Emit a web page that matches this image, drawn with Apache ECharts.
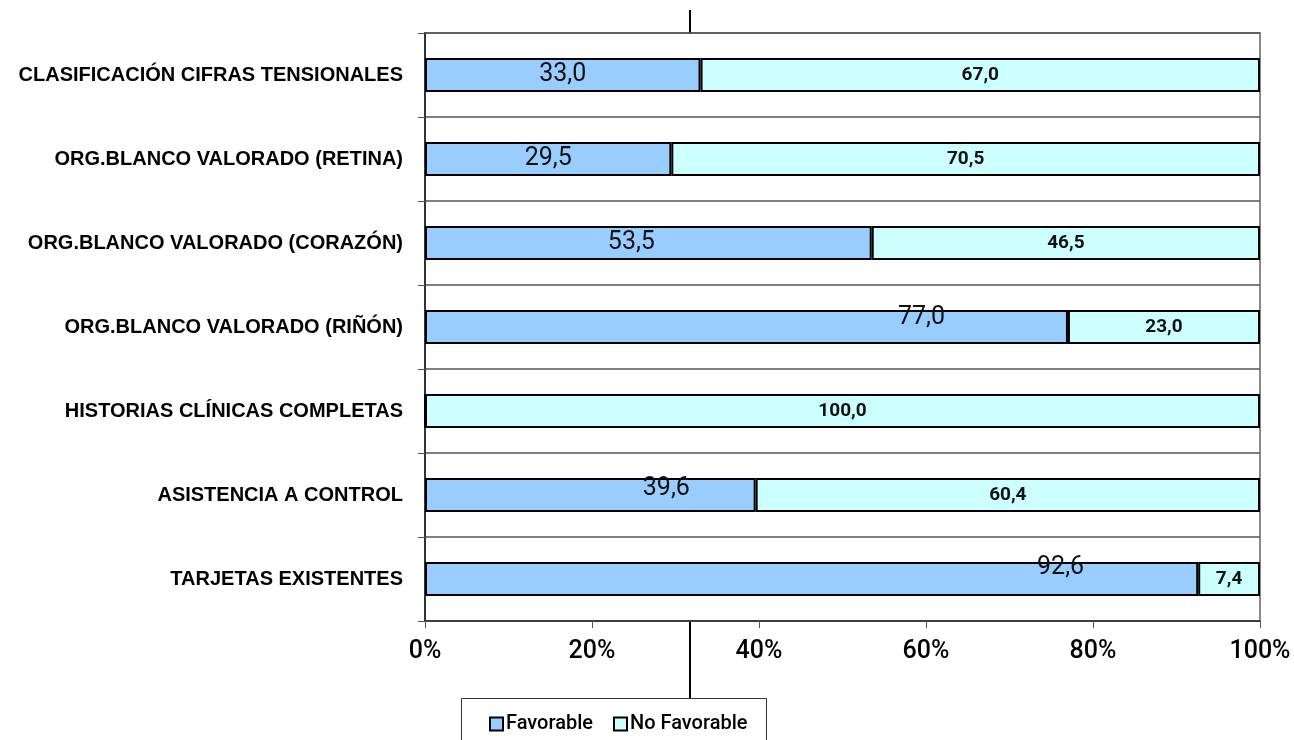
<!DOCTYPE html>
<html>
<head>
<meta charset="utf-8">
<script src="https://cdn.jsdelivr.net/npm/echarts@6/dist/echarts.min.js"></script>
<style>
  html, body { margin: 0; padding: 0; background: #fff; }
  #chart { width: 1294px; height: 740px; }
</style>
</head>
<body>
<div id="chart"></div>
<script>
// Categories, listed top to bottom
const categories = [
  'CLASIFICACIÓN CIFRAS TENSIONALES',
  'ORG.BLANCO VALORADO (RETINA)',
  'ORG.BLANCO VALORADO (CORAZÓN)',
  'ORG.BLANCO VALORADO (RIÑÓN)',
  'HISTORIAS CLÍNICAS COMPLETAS',
  'ASISTENCIA A CONTROL',
  'TARJETAS EXISTENTES'
];
const favorable   = [33.0, 29.5, 53.5, 77.0, 0, 39.6, 92.6];
const noFavorable = [67.0, 70.5, 46.5, 23.0, 100.0, 60.4, 7.4];
const seriesNames = ['Favorable', 'No Favorable'];

const fmt = v => (v ? v.toFixed(1).replace('.', ',') : '');

// hand-placed value labels on a few of the Favorable segments
const favLabelNudge = { 3: [175, -9], 5: [76, -6], 6: [249, -11], 2: [-17, 0] };

const chart = echarts.init(document.getElementById('chart'), null, { renderer: 'canvas' });

const favData = favorable.map((v, i) => {
  const item = { value: v };
  if (favLabelNudge[i]) item.label = { offset: favLabelNudge[i] };
  return item;
});

chart.setOption({
  animation: false,
  backgroundColor: '#ffffff',
  grid: {
    left: 425, right: 34, top: 33, bottom: 119,
    show: true, borderColor: '#8a8a8a', borderWidth: 2, backgroundColor: 'transparent'
  },
  xAxis: {
    type: 'value', min: 0, max: 100, interval: 20,
    axisLine: { show: true, lineStyle: { color: '#333', width: 1.5 } },
    axisTick: { show: true, length: 7, lineStyle: { color: '#555' } },
    splitLine: { show: false },
    axisLabel: {
      formatter: '{value}%', color: '#000', fontSize: 25, fontWeight: 500,
      fontFamily: 'Roboto', margin: 18
    }
  },
  yAxis: {
    type: 'category', inverse: true, data: categories,
    axisLine: { show: true, lineStyle: { color: '#333', width: 2 } },
    axisTick: { show: true, length: 7, lineStyle: { color: '#555' } },
    splitLine: { show: true, lineStyle: { color: '#555', width: 1.5 } },
    axisLabel: {
      color: '#000', fontSize: 20, fontWeight: 'bold',
      fontFamily: 'Liberation Sans', margin: 22, padding: [4, 0, 0, 0]
    }
  },
  legend: {
    left: 484, top: 709, itemWidth: 13, itemHeight: 13, itemGap: 20,
    icon: 'rect',
    itemStyle: { borderColor: '#000', borderWidth: 2 },
    textStyle: { color: '#000', fontSize: 20, fontWeight: 500, fontFamily: 'Roboto', padding: [0, 0, 0, -2] },
    data: seriesNames
  },
  series: [
    {
      name: seriesNames[0], type: 'bar', stack: 'total', barWidth: 34,
      data: favData,
      itemStyle: { color: '#99ccff', borderColor: '#000', borderWidth: 2 },
      label: {
        show: true, position: 'inside', color: '#111', fontSize: 25,
        fontFamily: 'Roboto',
        formatter: p => fmt(p.value)
      }
    },
    {
      name: seriesNames[1], type: 'bar', stack: 'total', barWidth: 34,
      data: noFavorable,
      itemStyle: { color: '#ccffff', borderColor: '#000', borderWidth: 2 },
      label: {
        show: true, position: 'inside', color: '#111', fontSize: 19,
        fontWeight: 'bold', fontFamily: 'Roboto',
        formatter: p => fmt(p.value)
      }
    }
  ],
  graphic: [
    { type: 'rect', shape: { x: 461.5, y: 698.5, width: 305, height: 50 },
      style: { fill: '#fff', stroke: '#333', lineWidth: 1 }, z: -1 },
    { type: 'line', shape: { x1: 690, y1: 10, x2: 690, y2: 33 },
      style: { stroke: '#000', lineWidth: 2 } },
    { type: 'line', shape: { x1: 690, y1: 621, x2: 690, y2: 698 },
      style: { stroke: '#000', lineWidth: 2 } }
  ]
});
</script>
</body>
</html>
